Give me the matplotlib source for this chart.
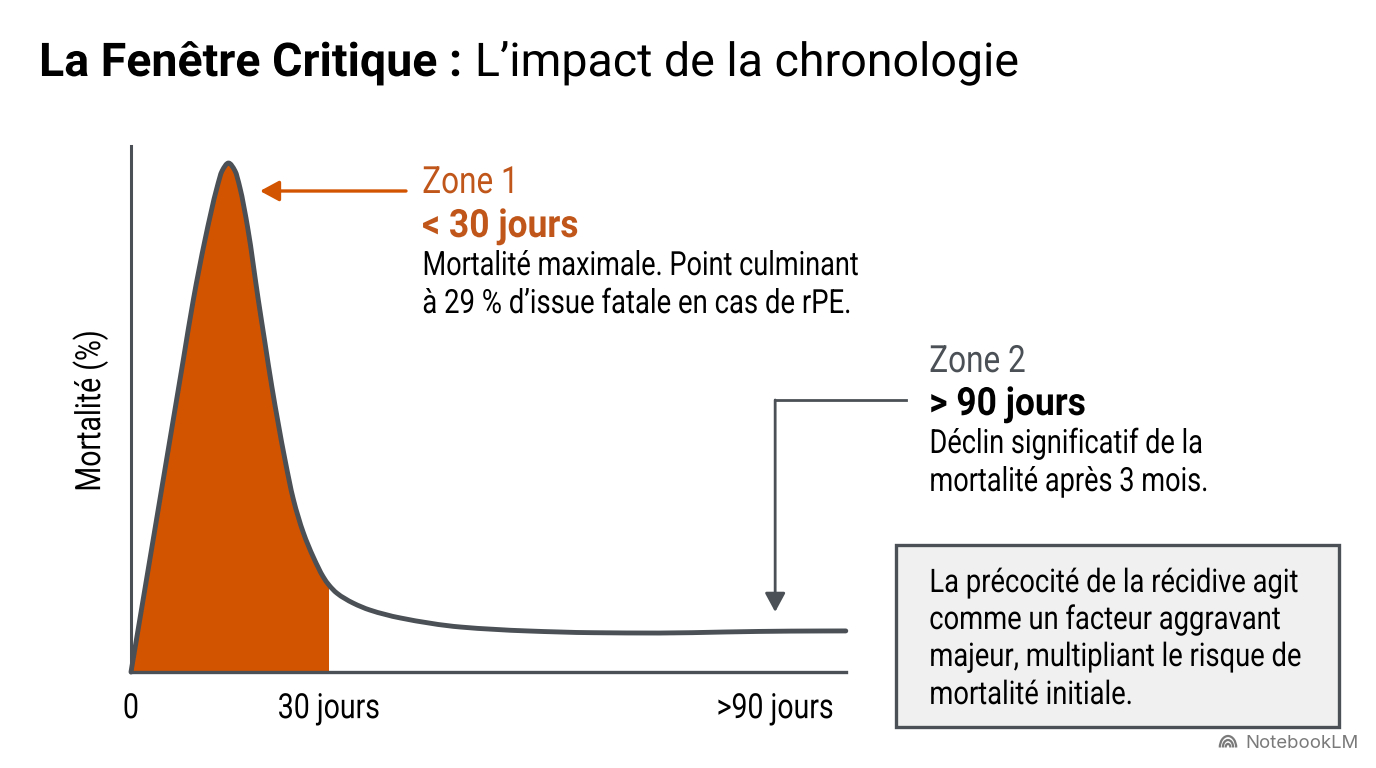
import matplotlib
matplotlib.use("Agg")
import matplotlib.pyplot as plt
from matplotlib.patches import Rectangle, PathPatch
from matplotlib.path import Path
from matplotlib.patheffects import AbstractPathEffect
from matplotlib.text import Text
from matplotlib.transforms import Affine2D, Bbox

W, H = 1376, 768

# Mortality curve (days since the event, mortality in %)
days = [0, 1.36, 3.64, 6.41, 7.92, 9.44, 11.2, 13.03, 13.8, 14.77, 15.76, 16.5, 17.73, 19.29, 20.3,
        21.32, 23.33, 24.59, 26.1, 27.62, 29.14, 30, 31.17, 33.64, 36.2, 40.8, 50, 60, 70, 80, 90, 100, 108.3]
mortality = [0, 3.05, 8.17, 14.39, 17.78, 21.2, 24.6, 27.6, 28.55, 29.0, 28.55, 27.6, 25.2, 21.2, 18.75,
             16.3, 12.1, 9.85, 7.95, 6.55, 5.41, 4.95, 4.5, 3.93, 3.53, 3.08, 2.56, 2.34, 2.24, 2.22,
             2.28, 2.33, 2.34]
zone1_end = 30
tick_days = [0, 30, 97.6]
tick_labels = ["0", "30 jours", ">90 jours"]
zone2_day = 97.6

ORANGE = "#d35400"
ZONE_TEXT = "#c0561a"
SLATE = "#4a5055"
FONT = "Roboto"


class Condense(AbstractPathEffect):
    """Squeeze a text's glyph outlines along one axis about its left edge or centre."""

    def __init__(self, factor, axis="x", anchor="left"):
        super().__init__()
        self.factor, self.axis, self.anchor = factor, axis, anchor

    def draw_path(self, renderer, gc, tpath, affine, rgbFace=None):
        box = tpath.transformed(affine).get_extents()
        if self.axis == "x":
            x0 = box.x0 if self.anchor == "left" else (box.x0 + box.x1) / 2
            squeeze = Affine2D().translate(-x0, 0).scale(self.factor, 1).translate(x0, 0)
        else:
            y0 = (box.y0 + box.y1) / 2
            squeeze = Affine2D().translate(0, -y0).scale(1, self.factor).translate(0, y0)
        renderer.draw_path(gc, tpath, affine + squeeze, rgbFace)


class CondensedText(Text):
    """Left-aligned text drawn narrower, reporting the narrower extent."""

    def __init__(self, *args, squeeze=1.0, **kwargs):
        super().__init__(*args, **kwargs)
        self.squeeze = squeeze
        self.set_path_effects([Condense(squeeze)])

    def get_window_extent(self, renderer=None, dpi=None):
        box = super().get_window_extent(renderer, dpi)
        return Bbox.from_extents(box.x0, box.y0, box.x0 + box.width * self.squeeze, box.y1)


def smooth_path(xs, ys, close_to=None):
    """Monotone cubic path passing through every (x, y)."""
    n = len(xs)
    h = [xs[i + 1] - xs[i] for i in range(n - 1)]
    s = [(ys[i + 1] - ys[i]) / h[i] for i in range(n - 1)]
    m = [s[0]] + [0.0] * (n - 2) + [s[-1]]
    for i in range(1, n - 1):
        if s[i - 1] * s[i] > 0:
            w1, w2 = 2 * h[i] + h[i - 1], h[i] + 2 * h[i - 1]
            m[i] = (w1 + w2) / (w1 / s[i - 1] + w2 / s[i])
    verts = [(xs[0], ys[0])]
    codes = [Path.MOVETO]
    for i in range(n - 1):
        verts += [(xs[i] + h[i] / 3, ys[i] + m[i] * h[i] / 3),
                  (xs[i + 1] - h[i] / 3, ys[i + 1] - m[i + 1] * h[i] / 3),
                  (xs[i + 1], ys[i + 1])]
        codes += [Path.CURVE4] * 3
    if close_to is not None:
        verts += [(xs[-1], close_to), (xs[0], close_to), (xs[0], ys[0])]
        codes += [Path.LINETO, Path.LINETO, Path.CLOSEPOLY]
    return Path(verts, codes)


fig = plt.figure(figsize=(W / 100, H / 100), dpi=100, facecolor="white")
ax = fig.add_axes([131 / W, 1 - 672 / H, (846 - 131) / W, (672 - 146) / H])
ax.set_xlim(0, 108.33)
ax.set_ylim(0, 29.97)
ax.patch.set_alpha(0)
for side in ("top", "right"):
    ax.spines[side].set_visible(False)
for side in ("left", "bottom"):
    ax.spines[side].set_color(SLATE)
    ax.spines[side].set_linewidth(2.2)
ax.spines["bottom"].set_linewidth(2.4)

# Shaded first zone under the curve, then the curve on top
n_fill = sum(d <= zone1_end for d in days)
ax.add_patch(PathPatch(smooth_path(days[:n_fill], mortality[:n_fill], close_to=0),
                       facecolor=ORANGE, edgecolor="none", zorder=2))
ax.add_patch(PathPatch(smooth_path(days, mortality), facecolor="none", edgecolor=SLATE, lw=3.5,
                       capstyle="round", joinstyle="round", clip_on=False, zorder=3))

ax.set_xticks(tick_days)
ax.set_xticklabels(tick_labels, fontfamily=FONT, fontsize=25, color="black")
ax.tick_params(axis="x", length=0, pad=14.5)
ax.set_yticks([])
for tick_label in ax.get_xticklabels():
    tick_label.set_path_effects([Condense(0.82, anchor="center")])


def fx(px):
    return px / W


def fy(py):
    return 1 - py / H


def label(px, py, text, size, color="black", weight="normal", squeeze=1.0):
    t = CondensedText(fx(px), fy(py), text, squeeze=squeeze, fontsize=size, color=color, fontweight=weight,
                      fontfamily=FONT, va="baseline", ha="left", transform=fig.transFigure)
    fig.add_artist(t)
    return t


# Title: bold lead followed by the regular part
fig.canvas.draw()
renderer = fig.canvas.get_renderer()
lead = label(39, 76, "La Fenêtre Critique :", 33.5, weight="bold")
bb = lead.get_window_extent(renderer)
label(bb.x1 + 12, 76, "L’impact de la chronologie", 33.5)

y_title = fig.text(fx(90), fy(411), "Mortalité (%)", rotation=90, fontsize=25, fontfamily=FONT,
                   color="black", ha="center", va="center")
y_title.set_path_effects([Condense(0.82, axis="y")])

head = "-|>,head_length=1.15,head_width=0.62"

# Zone 1 callout
label(422, 193, "Zone 1", 27, color=ZONE_TEXT, squeeze=0.84)
label(422, 237, "< 30 jours", 28, color=ZONE_TEXT, weight="bold", squeeze=0.91)
label(422, 275, "Mortalité maximale. Point culminant", 24, squeeze=0.813)
label(422, 313, "à 29 % d’issue fatale en cas de rPE.", 24, squeeze=0.825)
ax.annotate("", xy=(260 / W, 1 - 191 / H), xytext=(406 / W, 1 - 191 / H),
            xycoords="figure fraction", textcoords="figure fraction",
            arrowprops=dict(arrowstyle=head, color=ORANGE, lw=2.4, shrinkA=0, shrinkB=0))

# Zone 2 callout
label(929, 372, "Zone 2", 27, color=SLATE, squeeze=0.84)
label(929, 415, "> 90 jours", 28, weight="bold", squeeze=0.91)
label(929, 453, "Déclin significatif de la", 24, squeeze=0.815)
label(929, 491, "mortalité après 3 mois.", 24, squeeze=0.815)
zone2_px = 131 + zone2_day * 6.6
fig.add_artist(plt.Line2D([fx(906), fx(zone2_px)], [fy(400), fy(400)], color=SLATE, lw=2))
ax.annotate("", xy=(zone2_px / W, 1 - 612 / H), xytext=(zone2_px / W, 1 - 400 / H),
            xycoords="figure fraction", textcoords="figure fraction",
            arrowprops=dict(arrowstyle=head, color=SLATE, lw=2, shrinkA=0, shrinkB=0))

# Takeaway box
fig.add_artist(Rectangle((fx(896), fy(727)), (1339 - 896) / W, (727 - 545) / H,
                         transform=fig.transFigure, facecolor="#f0f0f0", edgecolor=SLATE, lw=2.4))
box_lines = ["La précocité de la récidive agit", "comme un facteur aggravant",
             "majeur, multipliant le risque de", "mortalité initiale."]
for py, line in zip((592, 629, 666, 704), box_lines):
    label(929, py, line, 23.4, squeeze=0.842)

# Footer mark: wordmark and nested arch glyph
fig.text(fx(1245), fy(748), "NotebookLM", fontsize=13.4, color="#7a7a7a", fontfamily="Inter",
         va="baseline", ha="left")
for rx, ry in [(8.2, 11.5), (5.2, 7.5), (2.4, 3.6)]:
    to_px = Affine2D().scale(rx / W, ry / H).translate(fx(1228), fy(747.5))
    fig.add_artist(PathPatch(Path.arc(0, 180), transform=to_px + fig.transFigure, facecolor="none",
                             edgecolor="#7a7a7a", lw=1.6))

fig.savefig("out.png", dpi=100, facecolor="white")
